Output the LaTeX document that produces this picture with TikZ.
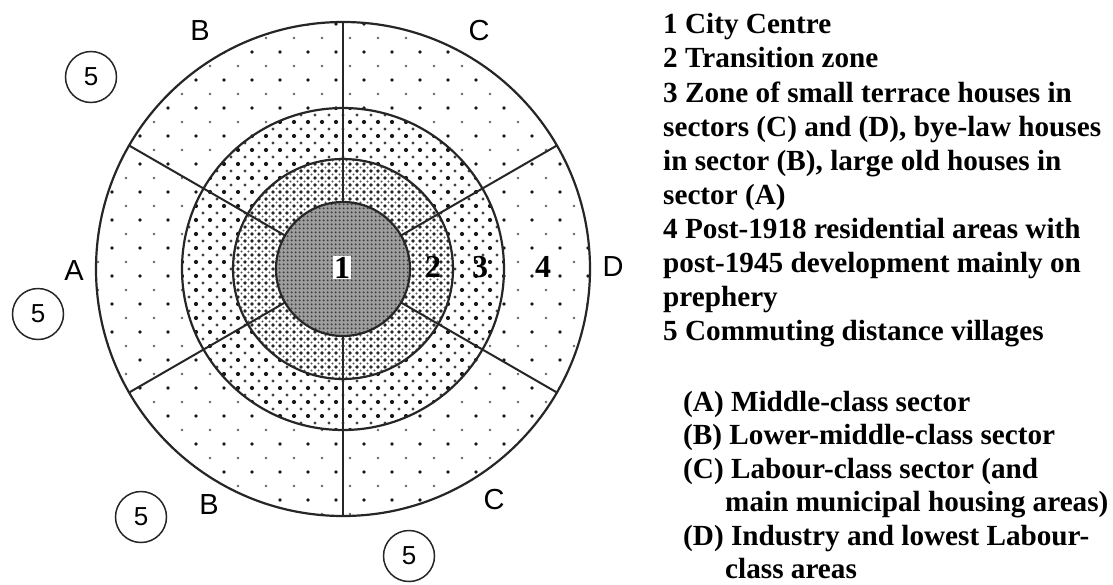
\documentclass[tikz,border=0pt]{standalone}
\usepackage{fontspec}
\setmainfont{Liberation Serif}
\newfontfamily\labelsans{Liberation Sans}
\usetikzlibrary{patterns.meta}
\begin{document}
\begin{tikzpicture}[x=1pt,y=-1pt,
  ring/.style={draw=black!85, line width=2.2pt},
  divider/.style={draw=black!85, line width=2pt},
  sectorlabel/.style={font=\labelsans\fontsize{29}{29}\selectfont, inner sep=0pt},
  village/.style={circle, draw=black!85, line width=1.5pt, minimum size=51pt, inner sep=0pt,
    font=\labelsans\fontsize{26}{26}\selectfont},
  zonenum/.style={anchor=base, font=\bfseries\fontsize{32}{32}\selectfont, inner sep=0.6pt},
  legend/.style={anchor=base west, inner sep=0pt, font=\bfseries\fontsize{29.2}{34}\selectfont},
]
\useasboundingbox (0,0) rectangle (1113,584);
\coordinate (c) at (343,269);

% zone 4: sparse staggered dots
\path[fill=white,
  postaction={pattern={Dots[distance=28pt, radius=1.9pt]}, pattern color=black!90},
  postaction={pattern={Dots[distance=28pt, radius=1.3pt, xshift=14pt, yshift=14pt]}, pattern color=black!60}]
  (c) circle[radius=247];
% zone 3
\path[fill=white,
  postaction={pattern={Dots[distance=14pt, radius=2.1pt]}, pattern color=black!90},
  postaction={pattern={Dots[distance=14pt, radius=1.7pt, xshift=7pt, yshift=7pt]}, pattern color=black!75}]
  (c) circle[radius=161];
% zone 2
\path[fill=white,
  postaction={pattern={Dots[distance=7pt, radius=1.8pt]}, pattern color=black!85},
  postaction={pattern={Dots[distance=7pt, radius=1.2pt, xshift=3.5pt, yshift=3.5pt]}, pattern color=black!65}]
  (c) circle[radius=110];
% zone 1: dense grey
\path[fill=black!38,
  postaction={pattern={Dots[distance=4pt, radius=1.3pt]}, pattern color=black!75}]
  (c) circle[radius=67];

% ring outlines
\draw[ring] (c) circle[radius=247];
\draw[ring] (c) circle[radius=161];
\draw[ring] (c) circle[radius=110];
\draw[ring] (c) circle[radius=67];

% sector dividers
\foreach \a in {90,30,-30,-90,-150,150}
  \draw[divider] ([shift={(\a:67)}]c) -- ([shift={(\a:247)}]c);

% zone numbers
\node[zonenum, fill=white] (z1) at (342,278) {1};
\node[zonenum] (z2) at (433,277) {2};
\node[zonenum] (z3) at (480,277) {3};
\node[zonenum] (z4) at (543,277) {4};

% sector letters
\node[sectorlabel] (sB1) at (200,31) {B};
\node[sectorlabel] (sC1) at (479,31) {C};
\node[sectorlabel] (sA) at (74,271) {A};
\node[sectorlabel] (sD) at (613,267) {D};
\node[sectorlabel] (sB2) at (209,505) {B};
\node[sectorlabel] (sC2) at (494,500) {C};

% commuting villages
\node[village] (v1) at (91,77) {5};
\node[village] (v2) at (38,314) {5};
\node[village] (v3) at (141,517) {5};
\node[village] (v4) at (409,556) {5};

% zone key
\node[legend] (k1) at (663,33) {1 City Centre};
\node[legend] (k2) at (663,67.5) {2 Transition zone};
\node[legend] (k3a) at (663,102) {3 Zone of small terrace houses in};
\node[legend] (k3b) at (663,136) {sectors (C) and (D), bye-law houses};
\node[legend] (k3c) at (663,170) {in sector (B), large old houses in};
\node[legend] (k3d) at (663,204.5) {sector (A)};
\node[legend] (k4a) at (663,238.5) {4 Post-1918 residential areas with};
\node[legend] (k4b) at (663,272.5) {post-1945 development mainly on};
\node[legend] (k4c) at (663,306.5) {prephery};
\node[legend] (k5) at (663,340.5) {5 Commuting distance villages};

% sector key
\node[legend] (sa) at (683,411) {(A) Middle-class sector};
\node[legend] (sb) at (683,444.5) {(B) Lower-middle-class sector};
\node[legend] (sc1) at (683,478) {(C) Labour-class sector (and};
\node[legend] (sc2) at (725,511.5) {main municipal housing areas)};
\node[legend] (sd1) at (683,545) {(D) Industry and lowest Labour-};
\node[legend] (sd2) at (725,578) {class areas};
\end{tikzpicture}
\end{document}
